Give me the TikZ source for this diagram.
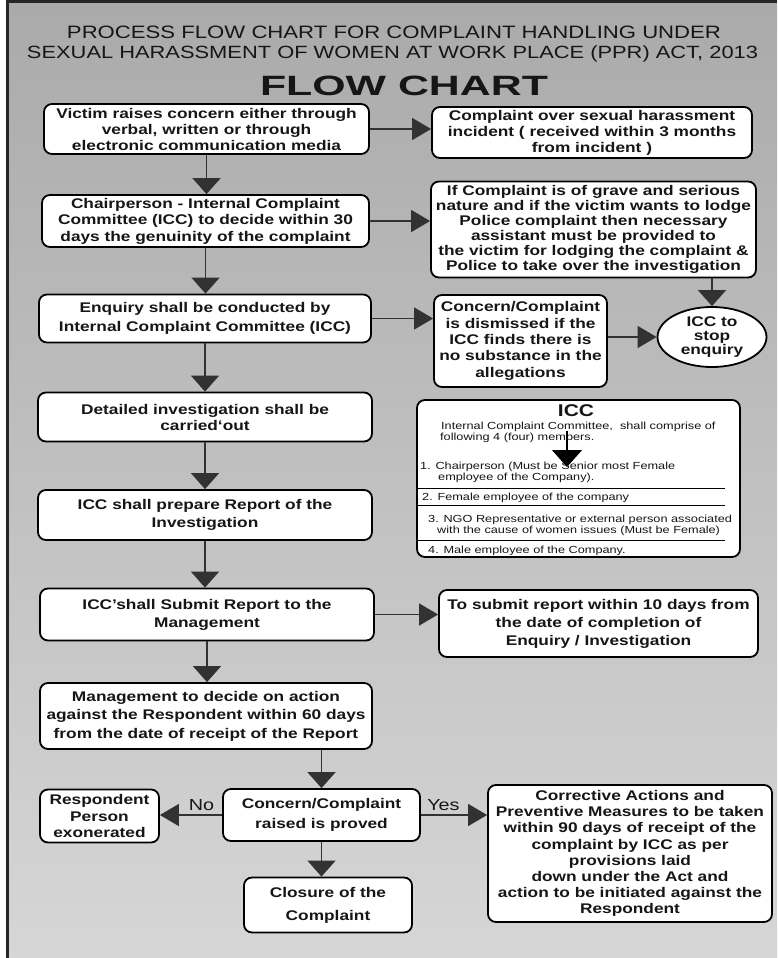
\documentclass[tikz,border=0pt]{standalone}
\usepackage{fontspec}
\setmainfont{Liberation Sans}[FakeStretch=1.235]
\usetikzlibrary{arrows.meta,shapes.geometric}
\definecolor{bgtop}{RGB}{170,170,170}
\definecolor{bgbot}{RGB}{214,214,214}
\definecolor{ink}{RGB}{22,22,22}
\definecolor{arrowgray}{RGB}{50,50,50}
\begin{document}
\begin{tikzpicture}[x=1pt,y=-1pt,
  box/.style={draw=black, line width=1.8pt, rounded corners=8pt, fill=white,
    align=center, text=ink, inner sep=1pt},
  bt/.style={font=\fontsize{14}{#1}\selectfont\bfseries},
  bt/.default=16,
  sz/.style 2 args={minimum width=#1pt, minimum height=#2pt},
  arr/.style={draw=arrowgray, line width=1.4pt, -{Triangle[width=28pt,length=16pt]}},
  harr/.style={draw=arrowgray, line width=1.4pt, -{Triangle[width=22pt,length=19pt]}},
  small/.style={anchor=base west, inner sep=0pt, text=ink, font=\fontsize{10.3}{11}\selectfont},
  sep/.style={draw=black, line width=1pt},
  lab/.style={font=\fontsize{16}{16}\selectfont, text=ink, inner sep=1pt}
]
\useasboundingbox (0,0) rectangle (777,958);
\shade[top color=bgtop, bottom color=bgbot] (0,0) rectangle (777,958);
\fill[white] (0,0) rectangle (6,958);
\fill[black!85] (6,0) rectangle (9,958);
\fill[black!85] (6,0) rectangle (777,3);

% titles
\node[anchor=base, inner sep=0pt, text=ink] (t1) at (394,39)
  {\resizebox{654pt}{!}{PROCESS FLOW CHART FOR COMPLAINT HANDLING UNDER}};
\node[anchor=base, inner sep=0pt, text=ink] (t2) at (392.5,58)
  {\resizebox{731pt}{!}{SEXUAL HARASSMENT OF WOMEN AT WORK PLACE (PPR) ACT, 2013}};
\node[anchor=base, inner sep=0pt, text=ink] (t3) at (404,95)
  {\resizebox{288pt}{19.5pt}{\bfseries FLOW CHART}};

% left column
\node[box, bt, sz={325}{50}] (victim) at (206.5,129)
  {Victim raises concern either through\\verbal, written or through\\electronic communication media};
\node[box, bt=16.5, sz={327}{52}] (chair) at (205.5,221)
  {Chairperson - Internal Complaint\\Committee (ICC) to decide within 30\\days the genuinity of the complaint};
\node[box, bt=18.5, sz={332}{48}] (enq) at (205,318.5)
  {Enquiry shall be conducted by\\Internal Complaint Committee (ICC)};
\node[box, bt=16, sz={334}{49}] (det) at (205,417)
  {Detailed investigation shall be\\carried`out};
\node[box, bt=18, sz={334}{50}] (prep) at (205,515)
  {ICC shall prepare Report of the\\Investigation};
\node[box, bt=18, sz={334}{52}] (sub) at (207,614.5)
  {ICC’shall Submit Report to the\\Management};
\node[box, bt=18.5, sz={332}{66}] (mgmt) at (206,716)
  {Management to decide on action\\against the Respondent within 60 days\\from the date of receipt of the Report};

% right column
\node[box, bt, sz={320}{51}] (over) at (592,132.5)
  {Complaint over sexual harassment\\incident ( received within 3 months\\from incident )};
\node[box, bt=15, sz={325}{96}] (grave) at (593.5,229.5)
  {If Complaint is of grave and serious\\nature and if the victim wants to lodge\\Police complaint then necessary\\assistant must be provided to\\the victim for lodging the complaint \&\\Police to take over the investigation};
\node[box, bt=16.3, sz={173}{92}] (dis) at (520.5,341)
  {Concern/Complaint\\is dismissed if the\\ICC finds there is\\no substance in the\\allegations};
\node[draw=black, line width=1.8pt, ellipse, fill=white, sz={109}{60}, inner sep=0pt,
  align=center, text=ink, bt=14] (stop) at (712,337) {ICC to\\stop\\enquiry};
\node[box, sz={323}{157}] (icc) at (578.5,478.5) {};
\node[box, bt=18, sz={319}{67}] (tosub) at (598.5,623.5)
  {To submit report within 10 days from\\the date of completion of\\Enquiry / Investigation};

% ICC contents
\node[anchor=base, inner sep=0pt, text=ink, font=\fontsize{17}{17}\selectfont\bfseries] (icct) at (576,416) {ICC};
\node[small] (i1) at (441,429) {Internal Complaint Committee,\ \ shall comprise of};
\node[small] (i2) at (440,440) {following 4 (four) members.};
\coordinate (ia) at (567,431);
\coordinate (ib) at (567,467);
\draw[draw=black, line width=1.2pt, -{Triangle[width=30pt,length=17pt]}] (ia) -- (ib);
\node[small] (m1) at (420,469) {1. Chairperson (Must be Senior most Female};
\node[small] (m1b) at (438,480) {employee of the Company).};
\node[small] (m2) at (422,500) {2. Female employee of the company};
\node[small] (m3) at (428,522) {3. NGO Representative or external person associated};
\node[small] (m3b) at (437,533) {with the cause of women issues (Must be Female)};
\node[small] (m4) at (428,553) {4. Male employee of the Company.};
\draw[sep] (418,488) -- (725,488);
\draw[sep] (418,505) -- (725,505);
\draw[sep] (418,540) -- (725,540);

% bottom
\node[box, bt=20, sz={197}{52}] (proved) at (321.5,815)
  {Concern/Complaint\\raised is proved};
\node[box, bt=16.5, sz={119}{53}] (resp) at (99.5,816)
  {Respondent\\Person\\exonerated};
\node[box, bt=16.2, sz={284}{137}] (corr) at (630,853.5)
  {Corrective Actions and\\Preventive Measures to be taken\\within 90 days of receipt of the\\complaint by ICC as per\\provisions laid\\down under the Act and\\action to be initiated against the\\Respondent};
\node[box, bt=23, sz={168}{55}] (clos) at (328,905)
  {Closure of the\\Complaint};

% connectors
\draw[arr] (victim.south) -- (victim.south |- chair.north);
\draw[arr] (chair.south) -- (chair.south |- enq.north);
\draw[arr] (enq.south) -- (enq.south |- det.north);
\draw[arr] (det.south) -- (det.south |- prep.north);
\draw[arr] (prep.south) -- (prep.south |- sub.north);
\draw[arr] (sub.south) -- (sub.south |- mgmt.north);
\draw[arr] (proved.north |- mgmt.south) -- (proved.north);
\draw[arr] (proved.south) -- (proved.south |- clos.north);
\draw[harr] (victim.east) -- (victim.east -| over.west);
\draw[harr] (chair.east) -- (chair.east -| grave.west);
\draw[harr] (enq.east) -- (enq.east -| dis.west);
\draw[harr] (dis.east |- stop.west) -- (stop.west);
\draw[arr] (stop.north |- grave.south) -- (stop.north);
\draw[harr] (sub.east) -- (sub.east -| tosub.west);
\draw[harr] (proved.west) -- node[lab, pos=0.33, above=3pt] (no) {No} (proved.west -| resp.east);
\draw[harr] (proved.east) -- node[lab, pos=0.34, above=3pt] (yes) {Yes} (proved.east -| corr.west);
\end{tikzpicture}
\end{document}
